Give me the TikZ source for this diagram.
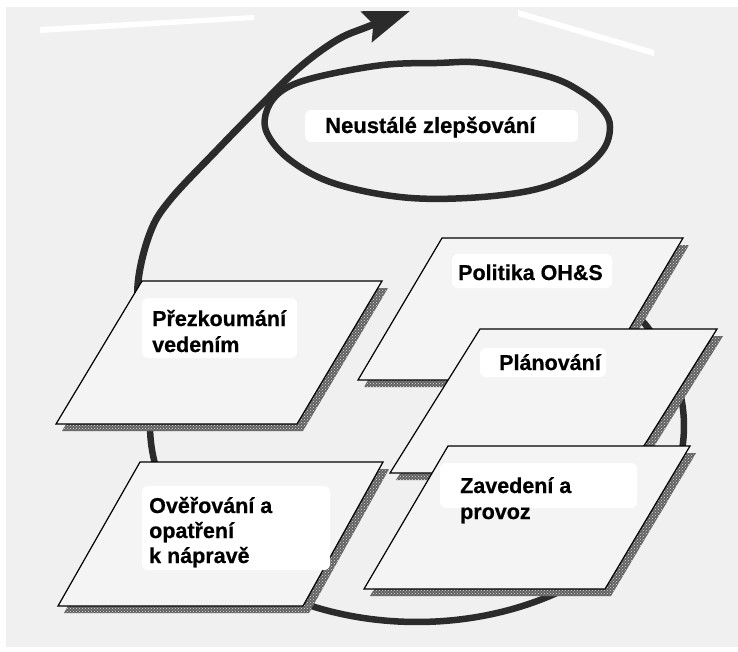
\documentclass[tikz,border=0pt]{standalone}
\usepackage{fontspec}
\setmainfont{Liberation Sans}[BoldFeatures={FakeBold=0.6}]
\usetikzlibrary{arrows.meta,patterns}
\definecolor{bgc}{gray}{0.94}
\definecolor{platec}{gray}{0.955}
\definecolor{ink}{gray}{0.17}
\newcommand\drawplate[4]{%
  \fill[shadowbox] ([shift={(6,7)}]#1) -- ([shift={(6,7)}]#2) -- ([shift={(6,7)}]#3) -- ([shift={(6,7)}]#4) -- cycle;
  \fill[shadowtex] ([shift={(6,7)}]#1) -- ([shift={(6,7)}]#2) -- ([shift={(6,7)}]#3) -- ([shift={(6,7)}]#4) -- cycle;
  \draw[platebox] (#1) -- (#2) -- (#3) -- (#4) -- cycle;
}
\begin{document}
\begin{tikzpicture}[x=1pt,y=-1pt,
  platebox/.style={draw=black,line width=1.2pt,fill=platec,line join=miter},
  shadowbox/.style={fill=black!62},
  shadowtex/.style={pattern=crosshatch dots,pattern color=gray!25},
  txt/.style={font=\bfseries\fontsize{21.5}{26}\selectfont,anchor=base west,inner sep=0pt},
  bigtxt/.style={txt,font=\bfseries\fontsize{22}{26}\selectfont},
  loopline/.style={draw=ink,line width=6.5pt},
  whitepatch/.style={fill=white,rounded corners=6pt}
]
\useasboundingbox (0,0) rectangle (738,652);
\fill[bgc] (0,0) rectangle (738,652);
% scan streaks
\fill[white] (0,0) rectangle (738,7);
\fill[white] (0,0) rectangle (6,652);
\fill[white] (0,647) rectangle (738,652);
\fill[white] (40,27) -- (254,15) -- (254,20) -- (40,33) -- cycle;
\fill[white] (518,10) -- (654,50) -- (654,56) -- (518,16) -- cycle;

% big loop behind the plates
\draw[loopline] plot[domain=-180:45,samples=150,variable=\t] ({417+267*cos(\t)},{426-196*sin(\t)});

% arrow emerging from behind the review plate
\draw[ink,line width=7pt,-{Stealth[length=46pt,width=32pt,inset=7pt]}]
  plot[smooth,tension=0.6] coordinates {(152,420) (141,330) (138,283) (150,233) (170,200) (217,150) (263,103) (300,67) (337,40) (367,27) (410,11)};

% continual improvement loop
\draw[ink,line width=6.5pt] plot[smooth cycle,tension=0.6] coordinates {(283,90) (317,77) (383,65) (437,63) (483,63) (550,77) (583,93) (603,110) (610,127) (603,150) (577,173) (533,190) (467,198) (400,197) (333,183) (290,160) (267,133) (267,110)};

% plate corners
\coordinate (pa1) at (442,238); \coordinate (pa2) at (683,238); \coordinate (pa3) at (599,380); \coordinate (pa4) at (358,380);
\coordinate (pb1) at (480,329); \coordinate (pb2) at (717,329); \coordinate (pb3) at (627,473); \coordinate (pb4) at (390,473);
\coordinate (pc1) at (448,446); \coordinate (pc2) at (690,446); \coordinate (pc3) at (605,589); \coordinate (pc4) at (364,589);
\coordinate (pd1) at (142,281); \coordinate (pd2) at (382,281); \coordinate (pd3) at (297,424); \coordinate (pd4) at (56,424);
\coordinate (pe1) at (140,462); \coordinate (pe2) at (383,462); \coordinate (pe3) at (303,606); \coordinate (pe4) at (58,606);

\drawplate{pa1}{pa2}{pa3}{pa4}
\drawplate{pb1}{pb2}{pb3}{pb4}
\drawplate{pc1}{pc2}{pc3}{pc4}
\drawplate{pd1}{pd2}{pd3}{pd4}
\drawplate{pe1}{pe2}{pe3}{pe4}

% white patches behind texts
\fill[whitepatch] (305,110) rectangle (578,142);
\fill[whitepatch] (452,254) rectangle (612,288);
\fill[whitepatch] (480,348) rectangle (606,377);
\fill[whitepatch] (142,298) rectangle (297,358);
\fill[whitepatch] (440,463) rectangle (637,508);
\fill[whitepatch] (142,486) rectangle (330,570);

% texts
\node[bigtxt] (t0) at (325,133) {Neustálé zlepšování};
\node[txt] (t1) at (458,280) {Politika OH\&S};
\node[txt] (t2) at (499,370) {Plánování};
\node[txt] (t3a) at (460,493) {Zavedení a};
\node[txt] (t3b) at (460,519) {provoz};
\node[txt] (t4a) at (152,326) {Přezkoumání};
\node[txt] (t4b) at (152,352) {vedením};
\node[txt] (t5a) at (149,513) {Ověřování a};
\node[txt] (t5b) at (149,538) {opatření};
\node[txt] (t5c) at (149,563) {k nápravě};
\end{tikzpicture}
\end{document}
